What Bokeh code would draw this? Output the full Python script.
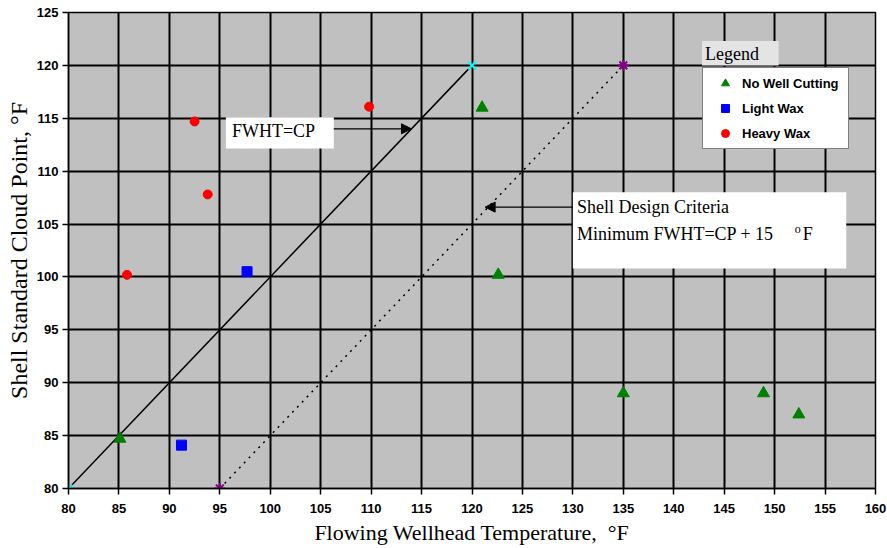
from bokeh.plotting import figure
from bokeh.models import (Range1d, Label, BoxAnnotation, Arrow, NormalHead,
                          Legend, LegendItem, FixedTicker)
from bokeh.embed import file_html
from bokeh.resources import INLINE

# ---- data ----
no_cut_x = [85.1, 121.0, 122.6, 135.0, 148.9, 152.4]
no_cut_y = [84.7, 116.0, 100.2, 89.0, 89.0, 87.0]
light_x = [91.2, 97.7]
light_y = [84.1, 100.5]
heavy_x = [85.8, 92.5, 93.8, 109.8]
heavy_y = [100.2, 114.7, 107.8, 116.1]
fwht_cp_x = [80, 120]
fwht_cp_y = [80, 120]
design_x = [95, 135]
design_y = [80, 120]
x_ticks = list(range(80, 161, 5))
y_ticks = list(range(80, 126, 5))

SERIF = "Liberation Serif"
SANS = "Liberation Sans"

p = figure(width=887, height=548, output_backend="svg", toolbar_location=None,
           x_range=Range1d(80, 160), y_range=Range1d(80, 125),
           min_border_left=68, min_border_right=12, min_border_top=12,
           min_border_bottom=60)
p.background_fill_color = "#C0C0C0"
p.border_fill_color = "white"
p.outline_line_color = "black"
p.outline_line_width = 1.5

p.xaxis.ticker = FixedTicker(ticks=x_ticks)
p.yaxis.ticker = FixedTicker(ticks=y_ticks)
for ax in (p.xaxis[0], p.yaxis[0]):
    ax.axis_line_color = "black"
    ax.axis_line_width = 1.5
    ax.major_tick_line_color = "black"
    ax.major_tick_line_width = 1.5
    ax.major_tick_out = 6
    ax.major_tick_in = 0
    ax.minor_tick_line_color = None
    ax.major_label_text_font = SANS
    ax.major_label_text_font_style = "bold"
    ax.major_label_text_font_size = "13px"
    ax.major_label_text_color = "black"
    ax.axis_label_text_font = SERIF
    ax.axis_label_text_font_style = "normal"
    ax.axis_label_text_color = "black"
p.xaxis.axis_label = "Flowing Wellhead Temperature,\u00a0\u00a0°F"
p.yaxis.axis_label = "Shell Standard Cloud Point, °F"
p.xaxis.axis_label_text_font_size = "22px"
p.yaxis.axis_label_text_font_size = "24px"
p.xaxis.major_label_standoff = 9
p.yaxis.major_label_standoff = 4
p.xaxis.axis_label_standoff = 4
p.yaxis.axis_label_standoff = 2

for g in (p.xgrid[0], p.ygrid[0]):
    g.grid_line_color = "black"
    g.grid_line_width = 2

# lines
p.line(fwht_cp_x, fwht_cp_y, line_color="black", line_width=1.5)
p.line(design_x, design_y, line_color="black", line_width=1.5, line_dash="2 5")
p.scatter(fwht_cp_x, fwht_cp_y, marker="x", size=11, line_color="#00FFFF", line_width=2)
p.scatter(design_x, design_y, marker="asterisk", size=11, line_color="#800080", line_width=2)

# data points
r_nc = p.scatter(no_cut_x, no_cut_y, marker="triangle", size=12,
                 fill_color="#008000", line_color="#008000")
r_lw = p.scatter(light_x, light_y, marker="square", size=10,
                 fill_color="#0000FF", line_color="#0000FF")
r_hw = p.scatter(heavy_x, heavy_y, marker="circle", size=9,
                 fill_color="#FF0000", line_color="#FF0000")

# annotation: FWHT=CP
p.add_layout(BoxAnnotation(left=95.6, right=106.3, bottom=112.15, top=115.1,
                           fill_color="white", fill_alpha=1, line_color=None))
p.add_layout(Arrow(x_start=106.3, y_start=114.0, x_end=114.0, y_end=114.0,
                   line_color="black", line_width=1.2,
                   end=NormalHead(size=10, fill_color="black", line_color="black")))
p.add_layout(Label(x=96.2, y=113.8, text="FWHT=CP", text_font=SERIF,
                   text_font_size="18px", text_baseline="middle", text_color="black"))

# annotation: Shell Design Criteria
p.add_layout(BoxAnnotation(left=130.0, right=157.1, bottom=100.8, top=108.0,
                           fill_color="white", fill_alpha=1, line_color=None))
p.add_layout(Arrow(x_start=130.0, y_start=106.6, x_end=121.3, y_end=106.6,
                   line_color="black", line_width=1.2,
                   end=NormalHead(size=10, fill_color="black", line_color="black")))
p.add_layout(Label(x=130.4, y=106.6, text="Shell Design Criteria", text_font=SERIF,
                   text_font_size="18px", text_baseline="middle", text_color="black"))
p.add_layout(Label(x=130.4, y=104.1, text="Minimum FWHT=CP + 15", text_font=SERIF,
                   text_font_size="18px", text_baseline="middle", text_color="black"))
p.add_layout(Label(x=152.0, y=104.5, text="o", text_font=SERIF,
                   text_font_size="12px", text_baseline="middle", text_color="black"))
p.add_layout(Label(x=152.8, y=104.1, text="F", text_font=SERIF,
                   text_font_size="18px", text_baseline="middle", text_color="black"))

# legend title box
p.add_layout(BoxAnnotation(left=142.8, right=150.4, bottom=120.0, top=122.3,
                           fill_color="#E4E4E4", fill_alpha=1, line_color=None))
p.add_layout(Label(x=143.1, y=121.1, text="Legend", text_font=SERIF,
                   text_font_size="18px", text_baseline="middle", text_color="black"))

legend = Legend(items=[LegendItem(label="No Well Cutting", renderers=[r_nc]),
                       LegendItem(label="Light Wax", renderers=[r_lw]),
                       LegendItem(label="Heavy Wax", renderers=[r_hw])],
                location=(634, 339), orientation="vertical")
legend.margin = 0
legend.padding = 5
legend.spacing = 5
legend.glyph_width = 34
legend.glyph_height = 20
legend.label_height = 20
legend.label_width = 101
legend.label_standoff = 0
legend.label_text_font = SANS
legend.label_text_font_style = "bold"
legend.label_text_font_size = "13px"
legend.label_text_color = "black"
legend.border_line_color = "black"
legend.border_line_width = 1.5
legend.background_fill_color = "white"
legend.background_fill_alpha = 1
p.add_layout(legend, "center")

open("out.html", "w").write(file_html(p, INLINE))
